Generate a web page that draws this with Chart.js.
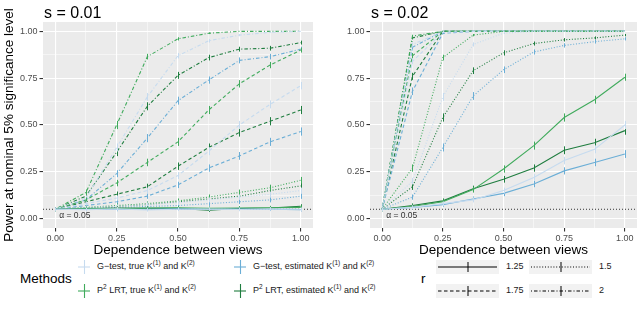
<!DOCTYPE html>
<html>
<head>
<meta charset="utf-8">
<script src="https://cdn.jsdelivr.net/npm/chart.js@4"></script>
<style>
  body { margin: 0; background: #fff; font-family: "Liberation Sans", Arial, sans-serif; }
  #wrap { position: relative; width: 640px; height: 314px; overflow: hidden; }
  .panel { position: absolute; top: 0; height: 258px; }
  .lg { position: absolute; font-size: 9px; color: #1a1a1a; white-space: nowrap; line-height: 12px; }
  .lg sup { font-size: 6.5px; vertical-align: 4px; line-height: 0; }
  .ttl { position: absolute; font-size: 13.5px; color: #000; line-height: 16px; }
  svg { position: absolute; }
</style>
</head>
<body>
<div id="wrap">
  <div class="panel" style="left:0;width:318px"><canvas id="leftChart"></canvas></div>
  <div class="panel" style="left:318px;width:322px"><canvas id="rightChart"></canvas></div>
  <div id="legend"></div>
</div>
<script>
// dependence between views
const dependence = [0, 0.125, 0.25, 0.375, 0.5, 0.625, 0.75, 0.875, 1];
const rValues = ["1.25", "1.5", "1.75", "2"];
const methods = ["G−test, true", "G−test, estimated", "P² LRT, true", "P² LRT, estimated"];
const nSim = 2000; // simulations behind each power estimate (for error bars)

// s = 0.01 -- power by method, one array per r
const s1_gTrue_125 = [0.05, 0.048, 0.052, 0.047, 0.05, 0.051, 0.049, 0.052, 0.05];
const s1_gEst_125  = [0.05, 0.05, 0.049, 0.05, 0.052, 0.05, 0.051, 0.05, 0.048];
const s1_pTrue_125 = [0.05, 0.055, 0.054, 0.056, 0.058, 0.055, 0.057, 0.058, 0.06];
const s1_pEst_125  = [0.05, 0.053, 0.056, 0.055, 0.055, 0.045, 0.054, 0.056, 0.066];
const s1_gTrue_15 = [0.05, 0.06, 0.065, 0.075, 0.085, 0.1, 0.115, 0.13, 0.15];
const s1_gEst_15  = [0.05, 0.055, 0.06, 0.065, 0.07, 0.08, 0.09, 0.1, 0.12];
const s1_pTrue_15 = [0.05, 0.06, 0.07, 0.08, 0.095, 0.115, 0.14, 0.165, 0.205];
const s1_pEst_15  = [0.05, 0.058, 0.065, 0.075, 0.09, 0.105, 0.12, 0.15, 0.175];
const s1_gTrue_175 = [0.05, 0.08, 0.11, 0.15, 0.23, 0.36, 0.5, 0.61, 0.71];
const s1_gEst_175  = [0.05, 0.07, 0.09, 0.12, 0.18, 0.27, 0.335, 0.41, 0.465];
const s1_pTrue_175 = [0.05, 0.1, 0.19, 0.3, 0.41, 0.58, 0.72, 0.82, 0.9];
const s1_pEst_175  = [0.05, 0.09, 0.13, 0.17, 0.28, 0.38, 0.46, 0.52, 0.58];
const s1_gTrue_2 = [0.05, 0.11, 0.38, 0.65, 0.87, 0.95, 0.98, 0.995, 1.0];
const s1_gEst_2  = [0.05, 0.1, 0.24, 0.43, 0.63, 0.74, 0.845, 0.865, 0.905];
const s1_pTrue_2 = [0.05, 0.14, 0.5, 0.865, 0.96, 0.99, 1.0, 1.0, 1.0];
const s1_pEst_2  = [0.05, 0.12, 0.355, 0.6, 0.765, 0.86, 0.905, 0.91, 0.94];

// s = 0.02
const s2_gTrue_125 = [0.05, 0.06, 0.08, 0.1, 0.15, 0.22, 0.31, 0.37, 0.5];
const s2_gEst_125  = [0.05, 0.06, 0.075, 0.105, 0.135, 0.185, 0.255, 0.3, 0.345];
const s2_pTrue_125 = [0.05, 0.065, 0.09, 0.155, 0.265, 0.39, 0.54, 0.635, 0.755];
const s2_pEst_125  = [0.05, 0.07, 0.095, 0.16, 0.21, 0.27, 0.365, 0.405, 0.47];
const s2_gTrue_15 = [0.05, 0.2, 0.65, 0.93, 0.99, 1, 1, 1, 1];
const s2_gEst_15  = [0.05, 0.115, 0.38, 0.655, 0.795, 0.89, 0.925, 0.945, 0.96];
const s2_pTrue_15 = [0.05, 0.27, 0.86, 0.98, 1, 1, 1, 1, 1];
const s2_pEst_15  = [0.05, 0.17, 0.54, 0.79, 0.885, 0.935, 0.955, 0.965, 0.98];
const s2_gTrue_175 = [0.05, 0.84, 0.995, 1, 1, 1, 1, 1, 1];
const s2_gEst_175  = [0.05, 0.68, 0.99, 1, 1, 1, 1, 1, 1];
const s2_pTrue_175 = [0.05, 0.87, 1, 1, 1, 1, 1, 1, 1];
const s2_pEst_175  = [0.05, 0.76, 1, 1, 1, 1, 1, 1, 1];
const s2_gTrue_2 = [0.05, 0.93, 1, 1, 1, 1, 1, 1, 1];
const s2_gEst_2  = [0.05, 0.915, 1, 1, 1, 1, 1, 1, 1];
const s2_pTrue_2 = [0.05, 0.975, 1, 1, 1, 1, 1, 1, 1];
const s2_pEst_2  = [0.05, 0.965, 1, 1, 1, 1, 1, 1, 1];

const gridTicks = [0, 0.125, 0.25, 0.375, 0.5, 0.625, 0.75, 0.875, 1];

const methodColors = ["#c6dbef", "#6baed6", "#41ab5d", "#1f7d3f"];
const rDash = { "1.25": [], "1.5": [1, 1.8], "1.75": [3.5, 2.5], "2": [1, 2, 3.5, 2] };

const panelS1 = {
  "1.25": [s1_gTrue_125, s1_gEst_125, s1_pTrue_125, s1_pEst_125],
  "1.5":  [s1_gTrue_15, s1_gEst_15, s1_pTrue_15, s1_pEst_15],
  "1.75": [s1_gTrue_175, s1_gEst_175, s1_pTrue_175, s1_pEst_175],
  "2":    [s1_gTrue_2, s1_gEst_2, s1_pTrue_2, s1_pEst_2]
};
const panelS2 = {
  "1.25": [s2_gTrue_125, s2_gEst_125, s2_pTrue_125, s2_pEst_125],
  "1.5":  [s2_gTrue_15, s2_gEst_15, s2_pTrue_15, s2_pEst_15],
  "1.75": [s2_gTrue_175, s2_gEst_175, s2_pTrue_175, s2_pEst_175],
  "2":    [s2_gTrue_2, s2_gEst_2, s2_pTrue_2, s2_pEst_2]
};

const FONT = "'Liberation Sans', Arial, sans-serif";

function buildDatasets(panel) {
  const sets = [];
  rValues.forEach(r => {
    panel[r].forEach((vals, m) => {
      sets.push({
        label: methods[m] + " r=" + r,
        data: vals.map((v, i) => ({ x: dependence[i], y: v })),
        borderColor: methodColors[m],
        borderWidth: 1.1,
        borderDash: rDash[r],
        pointRadius: 0,
        fill: false,
        tension: 0
      });
    });
  });
  return sets;
}

// grey panel, alpha line, title, error bars
const panelDeco = {
  id: "panelDeco",
  beforeDraw(chart, args, opts) {
    const a = chart.chartArea, c = chart.ctx;
    c.save();
    c.fillStyle = "#ebebeb";
    c.fillRect(a.left, a.top, a.right - a.left, a.bottom - a.top);
    c.fillStyle = "#000";
    c.font = "16px " + FONT;
    c.textBaseline = "alphabetic";
    c.fillText(opts.title, a.left + 1, 18);
    c.restore();
  },
  beforeDatasetsDraw(chart) {
    const a = chart.chartArea, c = chart.ctx;
    const y = chart.scales.y.getPixelForValue(0.05);
    const x0 = chart.scales.x.getPixelForValue(0);
    c.save();
    c.strokeStyle = "#333";
    c.lineWidth = 1;
    c.setLineDash([1, 2]);
    c.beginPath();
    c.moveTo(a.left, y);
    c.lineTo(a.right, y);
    c.stroke();
    c.fillStyle = "#333";
    c.font = "8.5px " + FONT;
    c.textBaseline = "middle";
    c.fillText("α = 0.05", x0 + 4, y + 6);
    c.restore();
  },
  afterDatasetDraw(chart, args) {
    const ds = chart.data.datasets[args.index];
    const c = chart.ctx, xs = chart.scales.x, ys = chart.scales.y;
    c.save();
    c.strokeStyle = ds.borderColor;
    c.lineWidth = 1;
    c.setLineDash([]);
    ds.data.forEach(p => {
      const half = 1.96 * Math.sqrt(p.y * (1 - p.y) / nSim);
      if (half <= 0.002) return;
      const px = Math.round(xs.getPixelForValue(p.x)) + 0.5;
      c.beginPath();
      c.moveTo(px, ys.getPixelForValue(p.y - half));
      c.lineTo(px, ys.getPixelForValue(p.y + half));
      c.stroke();
    });
    c.restore();
  }
};

function isMajor(v) { return Math.abs(v * 4 - Math.round(v * 4)) < 1e-9; }

function axisGrid() {
  return {
    color: "#ffffff",
    lineWidth: ctx => (ctx.tick && isMajor(ctx.tick.value)) ? 1.1 : 0.5,
    tickColor: ctx => (ctx.tick && isMajor(ctx.tick.value)) ? "#333333" : "rgba(0,0,0,0)",
    tickLength: 3.5,
    drawOnChartArea: true
  };
}

function makeChart(id, panel, title, yWidth, showYTitle, padRight) {
  new Chart(document.getElementById(id), {
    type: "line",
    data: { datasets: buildDatasets(panel) },
    plugins: [panelDeco],
    options: {
      responsive: true,
      maintainAspectRatio: false,
      animation: false,
      events: [],
      layout: { padding: { top: 22, right: padRight, left: 0, bottom: 0 } },
      plugins: {
        legend: { display: false },
        tooltip: { enabled: false },
        panelDeco: { title: title }
      },
      scales: {
        x: {
          type: "linear",
          min: -0.05, max: 1.05,
          afterBuildTicks: s => { s.ticks = gridTicks.map(v => ({ value: v })); },
          afterFit: s => { s.height = 30; },
          ticks: {
            autoSkip: false, maxRotation: 0, padding: 2,
            color: "#4d4d4d", font: { family: FONT, size: 9 },
            callback: v => isMajor(v) ? v.toFixed(2) : ""
          },
          grid: axisGrid(),
          border: { display: false },
          title: {
            display: true, text: "Dependence between views",
            color: "#000", font: { family: FONT, size: 13.5 },
            padding: { top: 0, bottom: 0 }
          }
        },
        y: {
          type: "linear",
          min: -0.05, max: 1.05,
          afterBuildTicks: s => { s.ticks = gridTicks.map(v => ({ value: v })); },
          afterFit: s => { s.width = yWidth; },
          ticks: {
            autoSkip: false, padding: 2,
            color: "#4d4d4d", font: { family: FONT, size: 9 },
            callback: v => isMajor(v) ? v.toFixed(2) : ""
          },
          grid: axisGrid(),
          border: { display: false },
          title: {
            display: showYTitle, text: "Power at nominal 5% significance level",
            color: "#000", font: { family: FONT, size: 13.5 },
            padding: { top: 1, bottom: 0 }
          }
        }
      }
    }
  });
}

makeChart("leftChart", panelS1, "s = 0.01", 43, true, 5);
makeChart("rightChart", panelS2, "s = 0.02", 52, false, 3);

// legend below the panels
function plusKey(color, x, y) {
  return '<svg style="left:' + (x - 6) + 'px;top:' + (y - 8) + 'px" width="12" height="16">' +
    '<line x1="0" y1="8" x2="12" y2="8" stroke="' + color + '" stroke-width="1.1"/>' +
    '<line x1="6.5" y1="1" x2="6.5" y2="15" stroke="' + color + '" stroke-width="1.1"/></svg>';
}
function lineKey(dash, x, y, w) {
  return '<svg style="left:' + x + 'px;top:' + (y - 7) + 'px" width="' + w + '" height="14">' +
    '<rect x="0" y="0" width="' + w + '" height="14" fill="#f2f2f2"/>' +
    '<line x1="2" y1="7" x2="' + (w - 2) + '" y2="7" stroke="#000" stroke-width="1.1" stroke-dasharray="' + (dash.length ? dash.join(",") : "none") + '"/>' +
    '<line x1="' + (w / 2 + 0.5) + '" y1="2" x2="' + (w / 2 + 0.5) + '" y2="12" stroke="#000" stroke-width="1"/></svg>';
}
const K = ' K<sup>(1)</sup> and K<sup>(2)</sup>';
const methodLabels = ["G−test, true" + K, "G−test, estimated" + K, "P<sup>2</sup> LRT, true" + K, "P<sup>2</sup> LRT, estimated" + K];
const rowY = [267, 291];
const mColX = [84, 240];
const rColX = [436, 529];
let html = '<div class="ttl" style="left:20px;top:271px">Methods</div>';
methodLabels.forEach((lab, i) => {
  const col = i % 2, row = Math.floor(i / 2);
  html += plusKey(methodColors[i], mColX[col], rowY[row]);
  html += '<div class="lg" style="left:' + (mColX[col] + 13) + 'px;top:' + (rowY[row] - 7) + 'px">' + lab + '</div>';
});
html += '<div class="ttl" style="left:421px;top:271px">r</div>';
rValues.forEach((r, i) => {
  const col = i % 2, row = Math.floor(i / 2);
  html += lineKey(rDash[r], rColX[col], rowY[row], 63);
  html += '<div class="lg" style="left:' + (rColX[col] + 70) + 'px;top:' + (rowY[row] - 7) + 'px">' + r + '</div>';
});
document.getElementById("legend").innerHTML = html;
</script>
</body>
</html>
